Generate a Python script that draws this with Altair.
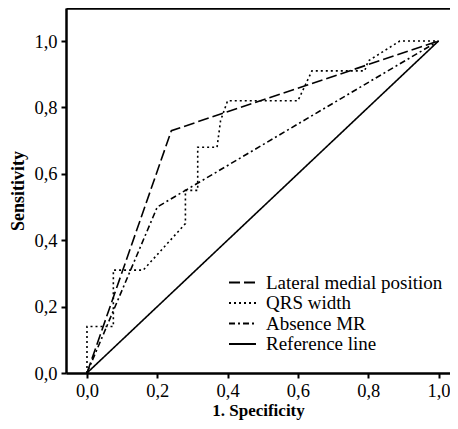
import altair as alt
import pandas as pd

series_names = ["Lateral medial position", "QRS width", "Absence MR", "Reference line"]

lat_x = [0.0, 0.24, 1.0]
lat_y = [0.0, 0.73, 1.0]

qrs_x = [0.0, 0.0, 0.075, 0.075, 0.16, 0.28, 0.28, 0.315, 0.315, 0.37, 0.38, 0.40, 0.60, 0.64, 0.79, 0.80, 0.89, 1.0]
qrs_y = [0.0, 0.14, 0.14, 0.31, 0.31, 0.45, 0.55, 0.55, 0.68, 0.68, 0.76, 0.82, 0.82, 0.91, 0.91, 0.94, 1.0, 1.0]

mr_x = [0.0, 0.2, 1.0]
mr_y = [0.0, 0.5, 1.0]

ref_x = [0.0, 1.0]
ref_y = [0.0, 1.0]

tick_vals = [0.0, 0.2, 0.4, 0.6, 0.8, 1.0]

rows = []
for name, xs, ys in [(series_names[0], lat_x, lat_y), (series_names[1], qrs_x, qrs_y),
                     (series_names[2], mr_x, mr_y), (series_names[3], ref_x, ref_y)]:
    for i, (a, b) in enumerate(zip(xs, ys)):
        rows.append({"series": name, "x": a, "y": b, "ord": i})
df = pd.DataFrame(rows)

FONT = "'Liberation Serif', 'Times New Roman', 'DejaVu Serif', serif"
xscale = alt.Scale(domain=[-0.0597, 1.0327], nice=False, zero=False)
yscale = alt.Scale(domain=[0, 1.0994], nice=False)
lab = "replace(format(datum.value, '.1f'), '.', ',')"

lines = alt.Chart(df).mark_line(color="black", strokeWidth=1.6, clip=True).encode(
    x=alt.X("x:Q", scale=xscale,
            axis=alt.Axis(values=tick_vals, labelExpr=lab, title="1. Specificity", grid=False,
                          domainColor="black", domainWidth=2.5, tickColor="black", tickWidth=2,
                          tickSize=5, labelFont=FONT, labelFontSize=18.5, labelColor="black",
                          labelPadding=3, titleFont=FONT, titleFontSize=17, titleFontWeight="bold",
                          titleColor="black", titlePadding=3)),
    y=alt.Y("y:Q", scale=yscale,
            axis=alt.Axis(values=tick_vals, labelExpr=lab, title="Sensitivity", grid=False,
                          domainColor="black", domainWidth=2.5, tickColor="black", tickWidth=2,
                          tickSize=5, labelFont=FONT, labelFontSize=18.5, labelColor="black",
                          labelPadding=4, titleFont=FONT, titleFontSize=18, titleFontWeight="bold",
                          titleColor="black", titlePadding=6)),
    strokeDash=alt.StrokeDash("series:N",
                              scale=alt.Scale(domain=series_names,
                                              range=[[11, 4], [2, 3], [6, 3, 2, 3], [1, 0]]),
                              sort=series_names,
                              legend=alt.Legend(title=None, orient="none", legendX=167, legendY=265,
                                                symbolType="M-2,0H2", symbolSize=182,
                                                symbolStrokeColor="black", symbolStrokeWidth=2,
                                                labelFont=FONT, labelFontSize=19, labelColor="black",
                                                labelOffset=14, rowPadding=0.5, labelLimit=400)),
    order="ord:Q",
)

frame = alt.Chart(df).mark_line(opacity=0).encode(
    x=alt.X("x:Q", scale=xscale,
            axis=alt.Axis(orient="top", labels=False, ticks=False, title=None, grid=False,
                          domainColor="black", domainWidth=2.5)),
    y=alt.Y("y:Q", scale=yscale),
    detail="series:N",
)

chart = alt.layer(lines, frame).resolve_axis(x="independent").properties(
    width=384, height=365,
    autosize=alt.AutoSizeParams(type="none"),
    padding={"left": 58, "top": 0, "right": 0, "bottom": 48},
).configure_view(stroke=None).configure(background="white")

chart.save("out.html", embed_options={"renderer": "svg", "actions": False})
